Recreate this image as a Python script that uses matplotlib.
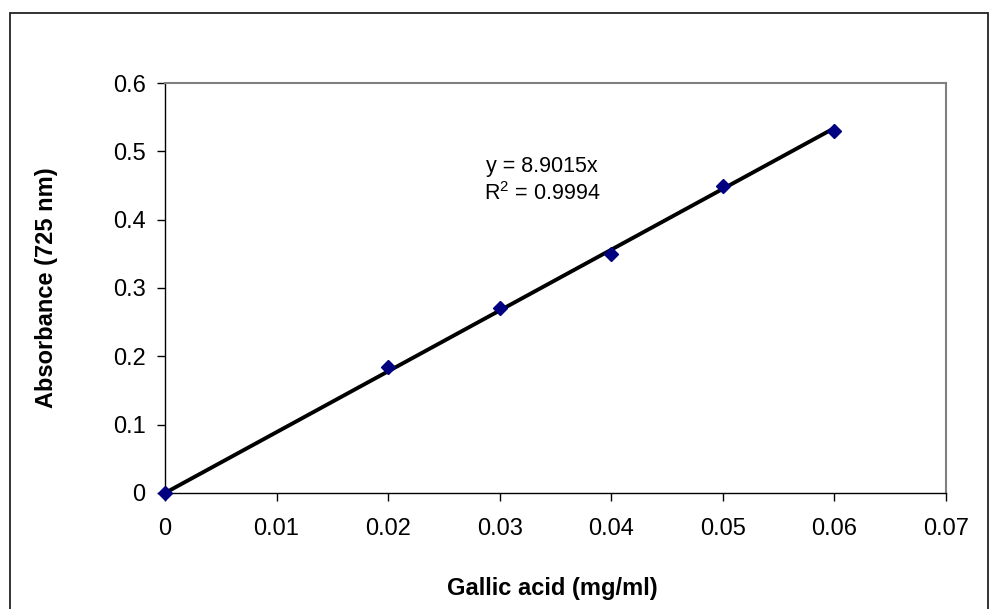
import matplotlib
matplotlib.use("Agg")
import matplotlib.pyplot as plt
import numpy as np
from matplotlib.patches import Rectangle

# Excel-like style
plt.rcParams.update({
    'font.family': ['Liberation Sans', 'DejaVu Sans'],
    'font.size': 17,
    'mathtext.fontset': 'custom',
    'mathtext.rm': 'Liberation Sans',
    'mathtext.it': 'Liberation Sans:italic',
    'axes.facecolor': 'white',
    'figure.facecolor': 'white',
})

# data
concentration = [0.0, 0.02, 0.03, 0.04, 0.05, 0.06]
absorbance = [0.0, 0.185, 0.27, 0.35, 0.45, 0.53]

slope = 8.9015
r_squared = 0.9994

x_ticks = [0, 0.01, 0.02, 0.03, 0.04, 0.05, 0.06, 0.07]
x_tick_labels = ['0', '0.01', '0.02', '0.03', '0.04', '0.05', '0.06', '0.07']
y_ticks = [0, 0.1, 0.2, 0.3, 0.4, 0.5, 0.6]
y_tick_labels = ['0', '0.1', '0.2', '0.3', '0.4', '0.5', '0.6']

fig = plt.figure(figsize=(9.89, 6.09), dpi=100)
ax = fig.add_axes([0.1668, 0.1905, 0.7897, 0.6732])

# outer chart border
fig.patches.append(Rectangle((10 / 989, -0.05), 977.5 / 989, 1.05 - 13 / 609,
                             transform=fig.transFigure, fill=False,
                             edgecolor='#222222', linewidth=1.3))

# trendline through origin
x_fit = np.array([0.0, max(concentration)])
ax.plot(x_fit, slope * x_fit, color='black', linewidth=2.8, zorder=3,
        solid_capstyle='butt')
ax.plot(concentration, absorbance, linestyle='none', marker='D',
        markersize=7.5, color='#000080', zorder=4, clip_on=False)

ax.text(0.483, 0.797, 'y = %.4fx' % slope, transform=ax.transAxes,
        ha='center', va='center', fontsize=15.5)
ax.text(0.483, 0.73, 'R$^2$ = %.4f' % r_squared, transform=ax.transAxes,
        ha='center', va='center', fontsize=15.5)

ax.set_xlim(0, 0.07)
ax.set_ylim(0, 0.6)
ax.set_xticks(x_ticks)
ax.set_xticklabels(x_tick_labels)
ax.set_yticks(y_ticks)
ax.set_yticklabels(y_tick_labels)
ax.tick_params(axis='both', direction='out', length=6, width=1, color='black')
ax.tick_params(axis='x', pad=12)
ax.tick_params(axis='y', pad=8)

for side in ['left', 'bottom']:
    ax.spines[side].set_color('black')
    ax.spines[side].set_linewidth(1.0)
for side in ['top', 'right']:
    ax.spines[side].set_color('#808080')
    ax.spines[side].set_linewidth(1.5)

ax.set_xlabel('Gallic acid (mg/ml)', fontweight='bold', va='center')
ax.xaxis.set_label_coords(0.496, -0.232)
ax.set_ylabel('Absorbance (725 nm)', fontweight='bold', va='center')
ax.yaxis.set_label_coords(-0.152, 0.5)

fig.savefig('out.png', dpi=100)
